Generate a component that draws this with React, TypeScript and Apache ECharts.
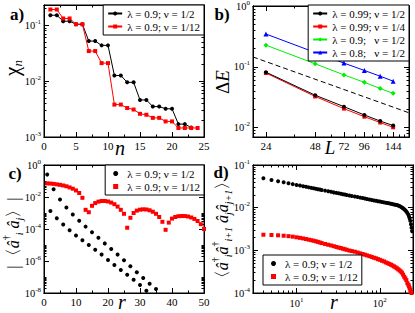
import { useEffect, useRef } from 'react';
import * as echarts from 'echarts';

const FONT = '"Liberation Serif", "Times New Roman", "DejaVu Serif", serif';

// ---------- panel a) : chi_n vs n ----------
const A_N = [1, 2, 3, 4, 5, 6, 7, 8, 9, 10, 11, 12, 13, 14, 15, 16, 17, 18, 19, 20, 21, 22, 23, 24];
const A_NU_HALF = [0.151, 0.151, 0.118, 0.118, 0.104, 0.104, 0.052, 0.052, 0.0436, 0.0436, 0.0126, 0.0126,
  0.0095, 0.0095, 0.0046, 0.0046, 0.0035, 0.0035, 0.0032, 0.0032, 0.0017, 0.0017, 0.00148];
const A_NU_TWELFTH = [0.191, 0.191, 0.132, 0.132, 0.104, 0.104, 0.0345, 0.0345, 0.021, 0.021, 0.0038, 0.0038,
  0.0033, 0.0031, 0.0026, 0.0025, 0.0022, 0.0022, 0.0019, 0.0019, 0.00145, 0.00145, 0.00145, 0.00145];
const A_X_TICKS = [0, 5, 10, 15, 20, 25];
const A_X_MINOR = [2.5, 7.5, 12.5, 17.5, 22.5];
const A_Y_EXP = [-3, -2, -1];

// ---------- panel b) : Delta E vs L ----------
const B_L = [24, 48, 72, 96, 120, 144];
const B_099_HALF = [0.0815, 0.0341, 0.0221, 0.0161, 0.0128, 0.0108];
const B_099_QUARTER = [0.079, 0.0325, 0.0205, 0.0151, 0.0121, 0.0101];
const B_09_HALF = [0.227, 0.112, 0.0736, 0.0555, 0.044, 0.0366];
const B_08_HALF = [0.346, 0.172, 0.115, 0.087, 0.07, 0.058];
const B_REF_L = [20, 180];
const B_REF = [0.145, 0.0175];
const B_X_LABELS = [24, 48, 72, 96, 144];
const B_X_MAJOR = [24, 48, 72, 96, 120, 144];
const B_X_MINOR = [36, 60, 84, 108, 132, 156, 168];
const B_Y_EXP = [-2, -1, 0];

// ---------- panel c) : |<a_i^+ a_j>| vs r ----------
const C_R_HALF = [1, 2, 3, 4, 5, 6, 7, 8, 9, 10, 11, 12, 13, 14, 15, 16, 17, 18, 19, 20, 21, 22, 23, 24, 25, 26,
  27, 28, 29, 30, 31, 32, 33, 35];
const C_HALF = [0.251, 1.32e-3, 0.0302, 4.68e-4, 7.08e-3, 1.91e-4, 2.24e-3, 8.32e-5, 7.94e-4, 3.98e-5, 3.31e-4,
  2.0e-5, 1.41e-4, 1.0e-5, 6.31e-5, 5.01e-6, 2.82e-5, 2.51e-6, 1.26e-5, 1.17e-6, 5.62e-6, 5.62e-7, 2.51e-6,
  2.75e-7, 1.12e-6, 1.38e-7, 4.68e-7, 6.76e-8, 2.0e-7, 3.16e-8, 8.71e-8, 1.38e-8, 3.8e-8, 1.78e-8];
const C_R_TWELFTH = [1, 2, 3, 4, 5, 6, 7, 8, 9, 10, 11, 12, 13, 14, 15, 16, 17, 18, 19, 20, 21, 22, 23, 24, 25,
  26, 27, 28, 29, 30, 31, 32, 33, 34, 35, 36, 37, 38, 39, 40, 41, 42, 43, 44, 45, 46, 47, 48, 49, 50];
const C_TWELFTH = [0.0708, 0.0692, 0.0661, 0.0617, 0.0575, 0.0525, 0.0468, 0.0398, 0.0331, 0.0257, 0.0178,
  0.00891, 0.00158, 0.00112, 0.00282, 0.00417, 0.00513, 0.00562, 0.00562, 0.00525, 0.00447, 0.00355, 0.00251,
  0.00158, 0.000891, 0.00012, 0.000501, 0.001, 0.00141, 0.00162, 0.0017, 0.00166, 0.00148, 0.0012, 0.000891,
  0.000562, 0.000282, 0.0000891, 0.000251, 0.000447, 0.000562, 0.000631, 0.000646, 0.000646, 0.000603,
  0.000525, 0.000427, 0.000316, 0.0002, 0.0001];
const C_X_TICKS = [0, 10, 20, 30, 40, 50];
const C_X_MINOR = [5, 15, 25, 35, 45];
const C_Y_EXP = [-8, -6, -4, -2, 0];

// ---------- panel d) : <a_i^+ a_{i+1}^+ a_j a_{j+1}> vs r ----------
const D_R = [4, 5, 6, 7, 8, 9, 10, 11, 12, 13, 14, 15, 16, 17, 18, 19, 20, 22, 24, 26, 28, 30, 32, 34, 36, 38, 40,
  43, 46, 50, 54, 58, 62, 66, 70, 75, 80, 85, 90, 95, 100, 106, 112, 118, 124, 130, 136, 142, 148, 154, 160, 166,
  172, 178, 184, 190, 196, 202, 208, 214, 220, 224, 228, 232, 236, 240, 244];
const D_HALF = [0.0488, 0.0447, 0.0417, 0.0392, 0.0372, 0.0356, 0.0341, 0.0329, 0.0318, 0.0308, 0.0299, 0.0291,
  0.0284, 0.0278, 0.0271, 0.0266, 0.026, 0.0251, 0.0243, 0.0235, 0.0228, 0.0222, 0.0217, 0.0212, 0.0207, 0.0203,
  0.0199, 0.0193, 0.0188, 0.0182, 0.0177, 0.0172, 0.0168, 0.0164, 0.016, 0.0156, 0.0152, 0.0148, 0.0145, 0.0142,
  0.0139, 0.0136, 0.0133, 0.013, 0.0128, 0.0126, 0.0123, 0.0121, 0.0119, 0.0117, 0.0115, 0.0113, 0.0109, 0.0105,
  0.0101, 0.0097, 0.0092, 0.0087, 0.0081, 0.0075, 0.0068, 0.0062, 0.0056, 0.0049, 0.0041, 0.0034, 0.0028];
const D_TWELFTH = [0.00232, 0.00229, 0.00225, 0.0022, 0.00215, 0.00209, 0.00202, 0.00196, 0.0019, 0.00184,
  0.00178, 0.00173, 0.00168, 0.00163, 0.00158, 0.00153, 0.00148, 0.00141, 0.00135, 0.0013, 0.00125, 0.0012,
  0.00116, 0.00113, 0.00109, 0.00106, 0.00103, 0.00099, 0.00096, 0.00093, 0.00089, 0.00085, 0.00082, 0.00079,
  0.00076, 0.00073, 0.0007, 0.00067, 0.00065, 0.00062, 0.0006, 0.00057, 0.00055, 0.00052, 0.0005, 0.00048,
  0.00046, 0.00044, 0.00042, 0.0004, 0.00038, 0.00036, 0.00034, 0.00032, 0.0003, 0.00027, 0.00024, 0.00022,
  0.0002, 0.00017, 0.000155, 0.000143, 0.00013, 0.000118, 0.000107, 0.0001, 0.000092];
const D_X_LABEL_EXP = [1, 2];
const D_X_MINOR = [3, 4, 5, 6, 7, 8, 9, 20, 30, 40, 50, 60, 70, 80, 90, 200];
const D_Y_EXP = [-4, -3, -2, -1];

const L10 = (v: number) => Math.log10(v);
const decadeMinors = (lo: number, hi: number) => {
  const out: number[] = [];
  for (let k = lo; k < hi; k++) for (let m = 2; m <= 9; m++) out.push(k + Math.log10(m));
  return out;
};

const LABEL_RICH = {
  b: { fontFamily: FONT, fontSize: 10.5, color: '#000', lineHeight: 14 },
  s: { fontFamily: FONT, fontSize: 7, color: '#000', lineHeight: 7, verticalAlign: 'top' },
};
const expFmt = (v: number) => `{b|10}{s|${Math.round(v)}}`;

type AxisDef = {
  grid: number; min: number; max: number; major: number[]; minor: number[]; labels: number[];
  fmt: (v: number) => string; rich?: any;
};

function axesFor(dim: 'x' | 'y', d: AxisDef) {
  const sides = dim === 'x' ? ['bottom', 'top'] : ['left', 'right'];
  const common = {
    type: 'value', gridIndex: d.grid, min: d.min, max: d.max,
    splitLine: { show: false }, splitArea: { show: false }, minorTick: { show: false },
    axisLine: { show: true, onZero: false, lineStyle: { color: '#000', width: 1 } }, silent: true,
  };
  const out: any[] = [];
  sides.forEach((side, si) => {
    out.push({
      ...common, position: side,
      axisTick: { show: true, inside: true, length: 5, customValues: d.major, lineStyle: { color: '#000', width: 1 } },
      axisLabel: si === 0
        ? { show: true, customValues: d.labels, formatter: d.fmt, color: '#000', fontFamily: FONT, fontSize: 11, margin: 3, rich: d.rich }
        : { show: false },
    });
    out.push({
      ...common, position: side,
      axisTick: { show: true, inside: true, length: 2.5, customValues: d.minor, lineStyle: { color: '#000', width: 1 } },
      axisLabel: { show: false },
    });
  });
  return out;
}

const txt = (text: string, x: number, y: number, size: number, o: any = {}) => ({
  type: 'text', x, y, rotation: o.rot || 0, silent: true,
  style: {
    text, fontFamily: FONT, fontSize: size, fontStyle: o.italic ? 'italic' : 'normal',
    fontWeight: o.bold ? 'bold' : 'normal', fill: '#000', align: 'center', verticalAlign: 'middle', rich: o.rich,
  },
});

const legendFor = (pos: any, names: string[], scatter = false) => ({
  ...pos, orient: 'vertical', padding: scatter ? [2, 4, 2, 8] : [2, 4, 2, 4], itemGap: 0,
  itemWidth: scatter ? 5 : 14, itemHeight: scatter ? 5 : 5,
  borderColor: '#000', borderWidth: 1, borderRadius: 0, backgroundColor: '#fff', selectedMode: false,
  textStyle: { fontFamily: FONT, fontSize: 11, color: '#000', lineHeight: 13, padding: scatter ? [0, 0, 0, 4] : 0 },
  formatter: (n: string) => n.split('#')[0], data: names,
});

export default function App() {
  const ref = useRef<HTMLDivElement>(null);
  useEffect(() => {
    if (!ref.current) return;
    const chart = echarts.init(ref.current, undefined, { renderer: 'svg' });

    const grids = [
      { left: 44, top: 5, width: 160, height: 132 },
      { left: 253, top: 6, width: 156, height: 131 },
      { left: 44, top: 165, width: 160, height: 128 },
      { left: 253, top: 165, width: 160, height: 128 },
    ].map((g) => ({ ...g, show: true, borderColor: '#000', borderWidth: 1, backgroundColor: 'transparent', outerBoundsMode: 'none', containLabel: false }));

    const aYmax = L10(0.23), bYmin = L10(0.007);
    const xAxis = [
      ...axesFor('x', { grid: 0, min: 0, max: 25, major: A_X_TICKS, minor: A_X_MINOR, labels: A_X_TICKS, fmt: (v) => String(v) }),
      ...axesFor('x', { grid: 1, min: L10(20), max: L10(180), major: B_X_MAJOR.map(L10), minor: B_X_MINOR.map(L10), labels: B_X_LABELS.map(L10), fmt: (v) => String(Math.round(10 ** v)) }),
      ...axesFor('x', { grid: 2, min: 0, max: 50, major: C_X_TICKS, minor: C_X_MINOR, labels: C_X_TICKS, fmt: (v) => String(v) }),
      ...axesFor('x', { grid: 3, min: L10(3), max: L10(250), major: D_X_LABEL_EXP, minor: D_X_MINOR.map(L10), labels: D_X_LABEL_EXP, fmt: expFmt, rich: LABEL_RICH }),
    ];
    const yAxis = [
      ...axesFor('y', { grid: 0, min: -3, max: aYmax, major: A_Y_EXP, minor: decadeMinors(-3, 0).filter((v) => v < aYmax), labels: A_Y_EXP, fmt: expFmt, rich: LABEL_RICH }),
      ...axesFor('y', { grid: 1, min: bYmin, max: 0, major: B_Y_EXP, minor: decadeMinors(-3, 0).filter((v) => v > bYmin), labels: B_Y_EXP, fmt: expFmt, rich: LABEL_RICH }),
      ...axesFor('y', { grid: 2, min: -8, max: 0, major: C_Y_EXP, minor: decadeMinors(-8, 0).filter((v) => Math.floor(v) % 2 === 0), labels: C_Y_EXP, fmt: expFmt, rich: LABEL_RICH }),
      ...axesFor('y', { grid: 3, min: -4, max: -1, major: D_Y_EXP, minor: decadeMinors(-4, -1), labels: D_Y_EXP, fmt: expFmt, rich: LABEL_RICH }),
    ];

    const ax = (g: number) => ({ xAxisIndex: g * 4, yAxisIndex: g * 4 });
    const lineS = (g: number, name: string, xs: number[], ys: number[], color: string, symbol: string, size: number, logX = false) => ({
      type: 'line', name, ...ax(g), symbol, symbolSize: size, showSymbol: true, clip: true,
      data: ys.map((v, i) => [logX ? L10(xs[i]) : xs[i], L10(v)]),
      lineStyle: { color, width: 1 }, itemStyle: { color }, emphasis: { disabled: true },
    });
    const scatS = (g: number, name: string, xs: number[], ys: number[], color: string, symbol: string, size: number, logX = false) => ({
      type: 'scatter', name, ...ax(g), symbol, symbolSize: size, clip: true,
      data: ys.map((v, i) => [logX ? L10(xs[i]) : xs[i], L10(v)]),
      itemStyle: { color, opacity: 1 }, emphasis: { disabled: true },
    });

    const nA = ['λ = 0.9; ν = 1/2#a', 'λ = 0.9; ν = 1/12#a'];
    const nB = ['λ = 0.99; ν = 1/2#b', 'λ = 0.99; ν = 1/4#b', 'λ = 0.9;   ν = 1/2#b', 'λ = 0.8;   ν = 1/2#b'];
    const nC = ['λ = 0.9; ν = 1/2#c', 'λ = 0.9; ν = 1/12#c'];
    const nD = ['λ = 0.9; ν = 1/2#d', 'λ = 0.9; ν = 1/12#d'];

    const series: any[] = [
      lineS(0, nA[0], A_N, A_NU_HALF, '#000000', 'circle', 4),
      lineS(0, nA[1], A_N, A_NU_TWELFTH, '#ff0000', 'rect', 4),
      {
        type: 'line', name: 'ref', ...ax(1), symbol: 'none', clip: true,
        data: B_REF.map((v, i) => [L10(B_REF_L[i]), L10(v)]),
        lineStyle: { color: '#000', width: 1, type: [5, 3] }, emphasis: { disabled: true },
      },
      lineS(1, nB[3], B_L, B_08_HALF, '#0000ff', 'triangle', 5, true),
      lineS(1, nB[2], B_L, B_09_HALF, '#00ee00', 'diamond', 5, true),
      lineS(1, nB[1], B_L, B_099_QUARTER, '#ff0000', 'rect', 4, true),
      lineS(1, nB[0], B_L, B_099_HALF, '#000000', 'circle', 4, true),
      scatS(2, nC[0], C_R_HALF, C_HALF, '#000000', 'circle', 4),
      scatS(2, nC[1], C_R_TWELFTH, C_TWELFTH, '#ff0000', 'rect', 4),
      scatS(3, nD[0], D_R, D_HALF, '#000000', 'circle', 4, true),
      scatS(3, nD[1], D_R, D_TWELFTH, '#ff0000', 'rect', 4, true),
    ];

    const sub = { fontFamily: FONT, fontSize: 10, fontStyle: 'italic', color: '#000', lineHeight: 10, verticalAlign: 'bottom' };
    const sup = { fontFamily: FONT, fontSize: 10, color: '#000', lineHeight: 10, verticalAlign: 'top' };
    const main = (fs: number) => ({ fontFamily: FONT, fontSize: fs, fontStyle: 'italic', color: '#000', lineHeight: fs + 6 });
    const up = { fontFamily: FONT, fontSize: 17, color: '#000', lineHeight: 23 };

    const graphic = [
      txt('a)', 17, 14, 17, { bold: true }),
      txt('b)', 222, 14, 17, { bold: true }),
      txt('c)', 15, 173, 17, { bold: true }),
      txt('d)', 221, 172, 17, { bold: true }),
      txt('n', 120, 148, 20, { italic: true }),
      txt('L', 330, 147, 19, { italic: true }),
      txt('r', 122, 302, 20, { italic: true }),
      txt('r', 334, 302, 20, { italic: true }),
      txt('{c|χ}{s|n}', 12, 68, 20, {
        rot: Math.PI / 2,
        rich: { c: { fontFamily: FONT, fontSize: 21, color: '#000', lineHeight: 24 }, s: { ...sub, fontSize: 13, lineHeight: 12 } },
      }),
      txt('{u|Δ}{e|E}', 222, 82, 19, {
        rot: Math.PI / 2,
        rich: { u: { fontFamily: FONT, fontSize: 19, color: '#000', lineHeight: 22 }, e: main(19) },
      }),
      txt('{u||〈}{t|â}{p|†}{b|i}{t| â}{b|j}{u|〉|}', 13, 233, 16, {
        rot: Math.PI / 2,
        rich: { u: up, t: main(16), p: sup, b: sub },
      }),
      txt('{u|〈}{t|â}{p|†}{b|i}{t|â}{p|†}{b|i+1}{t| â}{b|j}{t|â}{b|j+1}{u|〉}', 222, 230, 16, {
        rot: Math.PI / 2,
        rich: { u: up, t: main(16), p: sup, b: sub },
      }),
    ];

    chart.setOption({
      animation: false,
      textStyle: { fontFamily: FONT },
      grid: grids,
      xAxis, yAxis, series,
      legend: [
        legendFor({ right: 211, top: 5 }, nA),
        legendFor({ right: 6, top: 5 }, nB),
        legendFor({ right: 211, top: 165 }, nC, true),
        legendFor({ left: 263, top: 255 }, nD, true),
      ],
      graphic,
    });
    return () => chart.dispose();
  }, []);
  return <div ref={ref} style={{ position: 'absolute', left: 0, top: 0, width: 415, height: 313 }} />;
}
